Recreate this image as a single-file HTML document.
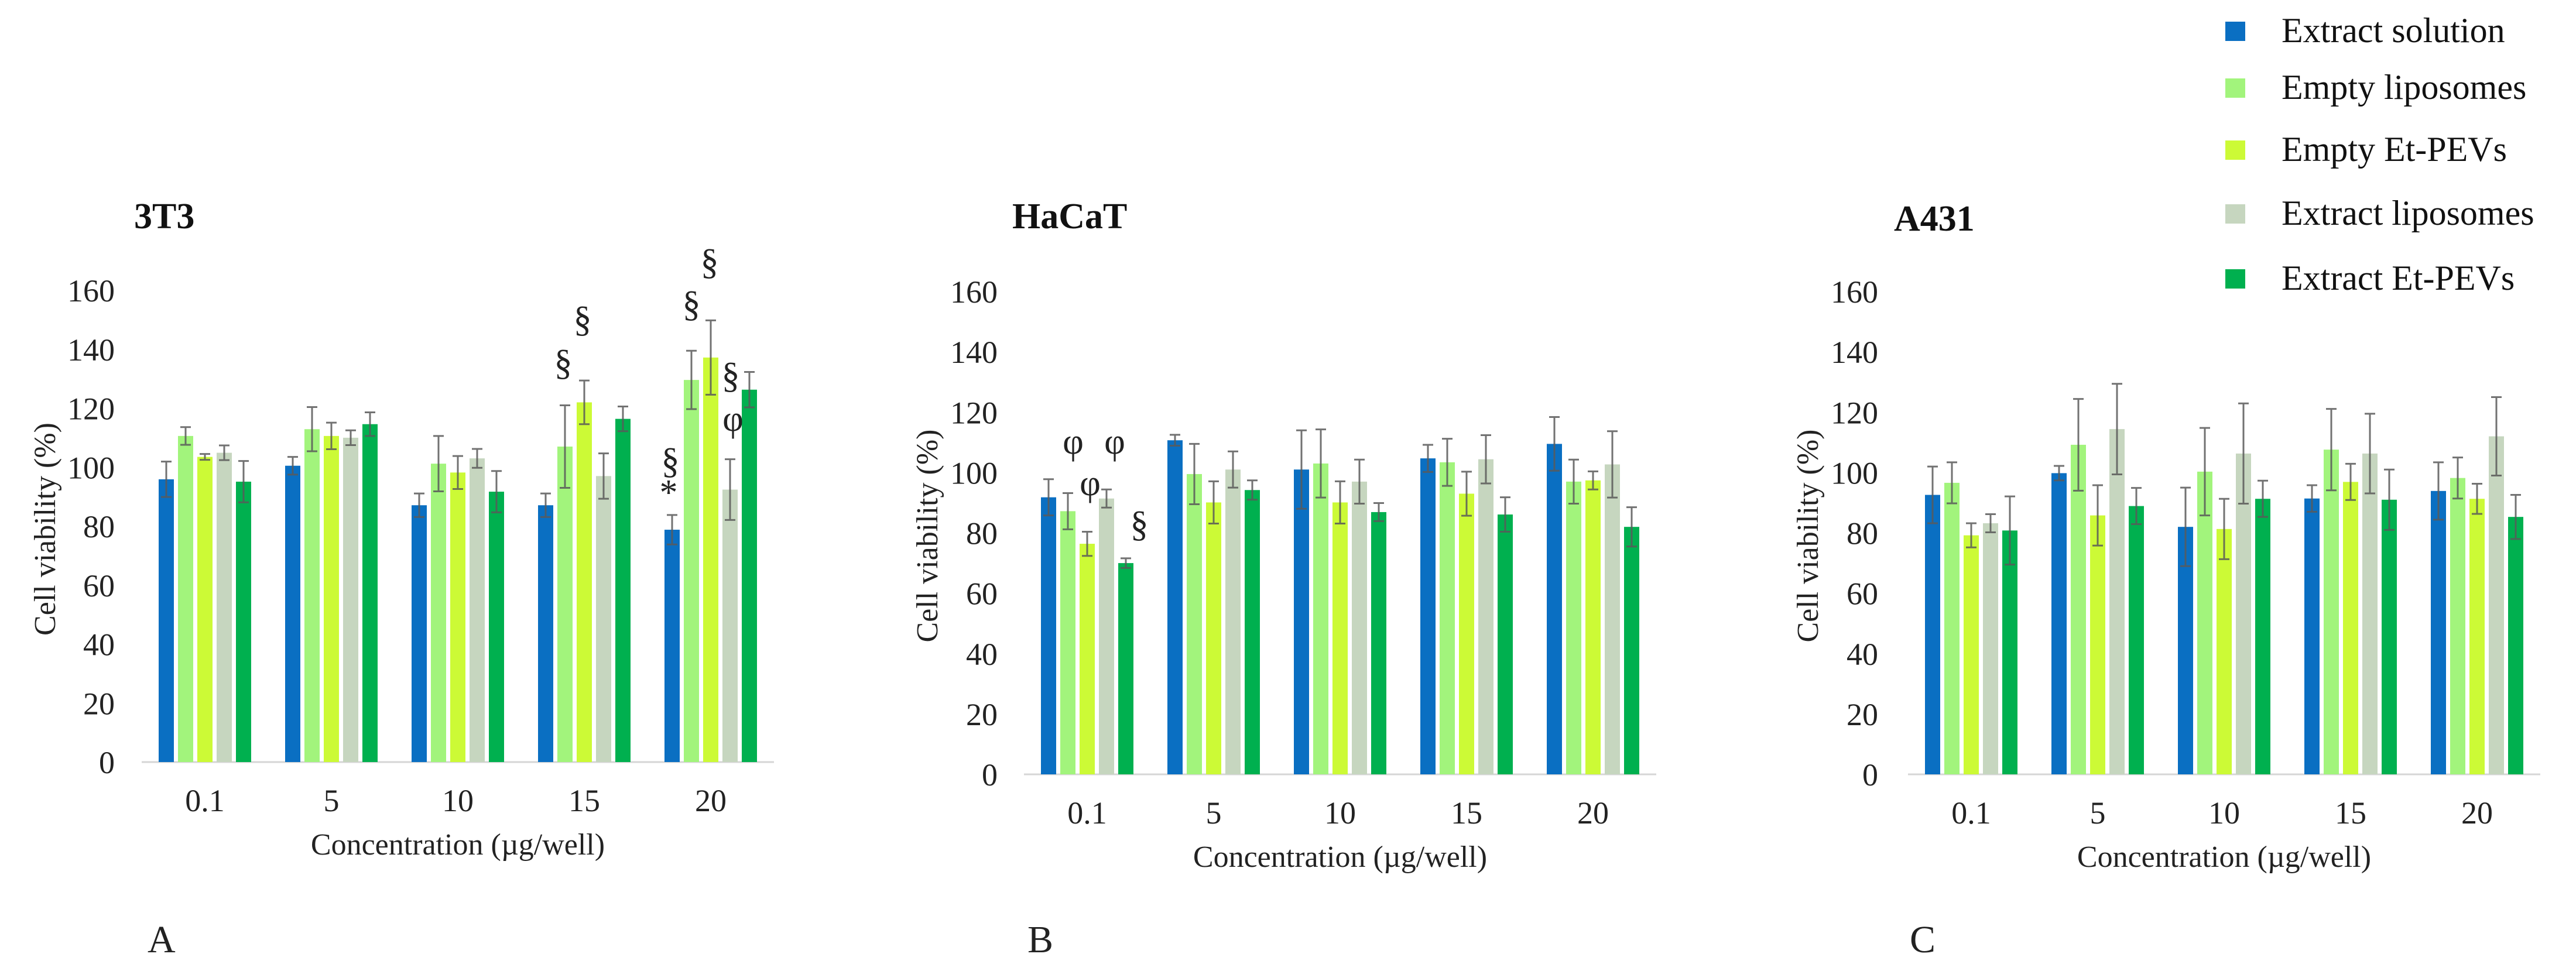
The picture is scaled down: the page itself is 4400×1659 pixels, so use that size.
<!DOCTYPE html>
<html><head><meta charset="utf-8">
<style>
html,body{margin:0;padding:0;background:#fff;}
svg{display:block;font-family:"Liberation Serif",serif;}
</style></head>
<body>
<svg id="fig" width="4400" height="1659" viewBox="0 0 4400 1659" xmlns="http://www.w3.org/2000/svg">
<g id="legend"></g>
</svg>
<script>
// Shared categories and series
const categories = ["0.1", "5", "10", "15", "20"];
const seriesNames = ["Extract solution", "Empty liposomes", "Empty Et-PEVs", "Extract liposomes", "Extract Et-PEVs"];
const seriesColors = ["#0a6fc2", "#a2f47c", "#ccfa36", "#c6d6bf", "#00b04f"];
const yTicks = [0, 20, 40, 60, 80, 100, 120, 140, 160];

// Panel A (3T3) values per series, per category
const a_extractSolution = [95.9, 100.5, 87.1, 87.1, 78.8];
const a_emptyLipo = [110.6, 112.9, 101.2, 107, 129.6];
const a_emptyPEV = [103.5, 110.6, 98.2, 122, 137.2];
const a_extractLipo = [104.9, 110, 103, 97, 92.4];
const a_extractPEV = [95.1, 114.6, 91.7, 116.4, 126.3];
const a_err1 = [6, 3, 4, 4, 5];
const a_err2 = [3, 7.5, 9.4, 14, 9.9];
const a_err3 = [1, 4.5, 5.6, 7.4, 12.6];
const a_err4 = [2.5, 2.5, 3.2, 7.7, 10.3];
const a_err5 = [7, 4, 7, 4.2, 6];

// Panel B (HaCaT)
const b_extractSolution = [91.8, 110.7, 101, 104.7, 109.5];
const b_emptyLipo = [87.2, 99.5, 103, 103.4, 97];
const b_emptyPEV = [76.4, 90.1, 90.1, 93, 97.4];
const b_extractLipo = [91.4, 101, 97, 104.4, 102.7];
const b_extractPEV = [70, 94.2, 86.9, 86.1, 82];
const b_err1 = [6, 1.8, 13, 4.5, 8.9];
const b_err2 = [6, 10, 11.3, 7.8, 7.3];
const b_err3 = [4, 7, 7, 7.3, 3];
const b_err4 = [3, 6, 7.3, 8, 11];
const b_err5 = [1.6, 3.2, 3, 5.7, 6.5];

// Panel C (A431)
const c_extractSolution = [92.6, 99.8, 82, 91.4, 93.9];
const c_emptyLipo = [96.6, 109.2, 100.3, 107.6, 98.2];
const c_emptyPEV = [79.2, 85.8, 81.3, 96.9, 91.3];
const c_extractLipo = [83.2, 114.4, 106.3, 106.3, 112];
const c_extractPEV = [80.8, 88.9, 91.3, 91, 85.3];
const c_err1 = [9.4, 2.4, 13, 4.4, 9.5];
const c_err2 = [6.8, 15.2, 14.5, 13.5, 6.8];
const c_err3 = [4, 10, 10, 6, 5];
const c_err4 = [3, 15, 16.6, 13.2, 13];
const c_err5 = [11.3, 6, 6, 10, 7.3];

const NS = "http://www.w3.org/2000/svg";
const svg = document.getElementById("fig");
function mk(tag, attrs, parent, text) {
  const e = document.createElementNS(NS, tag);
  for (const k in attrs) e.setAttribute(k, attrs[k]);
  if (text !== undefined) e.textContent = text;
  (parent || svg).appendChild(e);
  return e;
}

const panels = [
  {key:"a", title:"3T3", letter:"A", c0:350, y0:1302, y160:496, titleX:229, titleY:390, tickX:196, yTitleX:76, letterX:252,
   vals:[a_extractSolution,a_emptyLipo,a_emptyPEV,a_extractLipo,a_extractPEV], errs:[a_err1,a_err2,a_err3,a_err4,a_err5],
   marks:[["§",962,640],["§",995,566],["§",1145,808],["*",1142,862],["§",1181,540],["§",1212,468],["§",1248,662],["φ",1252,736]]},
  {key:"b", title:"HaCaT", letter:"B", c0:1857, y0:1323, y160:498, titleX:1729, titleY:390, tickX:1704, yTitleX:1583, letterX:1755,
   vals:[b_extractSolution,b_emptyLipo,b_emptyPEV,b_extractLipo,b_extractPEV], errs:[b_err1,b_err2,b_err3,b_err4,b_err5],
   marks:[["φ",1833,775],["φ",1904,775],["φ",1862,846],["§",1946,916]]},
  {key:"c", title:"A431", letter:"C", c0:3367, y0:1323, y160:498, titleX:3235, titleY:394, tickX:3208, yTitleX:3087, letterX:3262,
   vals:[c_extractSolution,c_emptyLipo,c_emptyPEV,c_extractLipo,c_extractPEV], errs:[c_err1,c_err2,c_err3,c_err4,c_err5],
   marks:[]}
];

const catStep = 216, barPitch = 33, barW = 26;

panels.forEach(p => {
  const g = mk("g", {});
  
  
  const yScale = v => p.y0 - (v / 160) * (p.y0 - p.y160);
  const xCat = i => p.c0 + i * catStep;

  const t = mk("text", {x:p.titleX, y:p.titleY, "font-size":62, "font-weight":"bold", fill:"#111"}, g, p.title);
  
  

  yTicks.forEach(v => {
    const tl = mk("text", {x:p.tickX, y:yScale(v) + 19, "font-size":54, "text-anchor":"end", fill:"#222"}, g, String(v));
    
    
  });

  const yt = mk("text", {x:0, y:0, "font-size":52, "text-anchor":"middle", fill:"#222",
    transform:"translate(" + (p.yTitleX + 18) + "," + ((p.y0 + p.y160) / 2 + 5) + ") rotate(-90)"}, g, "Cell viability (%)");
  
  

  const ax = mk("line", {x1:xCat(0) - catStep / 2, x2:xCat(4) + catStep / 2, y1:p.y0, y2:p.y0, stroke:"#d6d6d6", "stroke-width":3}, g);
  
  

  categories.forEach((c, i) => {
    const xl = mk("text", {x:xCat(i), y:p.y0 + 84, "font-size":54, "text-anchor":"middle", fill:"#222"}, g, c);
    
    
    p.vals.forEach((series, s) => {
      const v = series[i], e = p.errs[s][i];
      const cx = xCat(i) + (s - 2) * barPitch;
      const r = mk("rect", {x:cx - barW / 2, y:yScale(v), width:barW, height:p.y0 - yScale(v), fill:seriesColors[s]}, g);
      
      
      const eg = mk("g", {stroke:"#5a5a5a", "stroke-width":3, opacity:0.85}, g);
      
      
      mk("line", {x1:cx, x2:cx, y1:yScale(v - e), y2:yScale(v + e)}, eg);
      mk("line", {x1:cx - 9, x2:cx + 9, y1:yScale(v + e), y2:yScale(v + e)}, eg);
      mk("line", {x1:cx - 9, x2:cx + 9, y1:yScale(v - e), y2:yScale(v - e)}, eg);
    });
  });

  const xt = mk("text", {x:xCat(2), y:p.y0 + 158, "font-size":52, "text-anchor":"middle", fill:"#222"}, g, "Concentration (\u00b5g/well)");
  
  

  p.marks.forEach(m => {
    const mt = mk("text", {x:m[1], y:m[2], "font-size":62, "text-anchor":"middle", fill:"#222"}, g, m[0]);
    
    
  });

  const lt = mk("text", {x:p.letterX, y:1627, "font-size":66, fill:"#222"}, g, p.letter);
  
  
});

const legend = document.getElementById("legend");
const legendY = [53, 150, 256, 365, 476];
seriesNames.forEach((n, i) => {
  const eg = mk("g", {}, legend);
  
  
  mk("rect", {x:3801, y:legendY[i] - 16, width:34, height:33, fill:seriesColors[i]}, eg);
  mk("text", {x:3897, y:legendY[i] + 19, "font-size":60, fill:"#111"}, eg, n);
});
</script>
</body></html>
